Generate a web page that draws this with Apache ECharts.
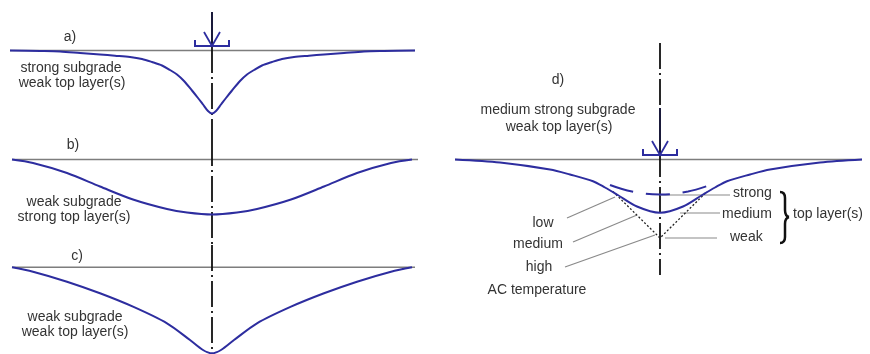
<!DOCTYPE html>
<html><head><meta charset="utf-8">
<script src="https://cdn.jsdelivr.net/npm/echarts@6/dist/echarts.min.js"></script>
<style>html,body{margin:0;padding:0;background:#fff}#c{width:870px;height:354px}</style>
</head><body><div id="c"></div>
<script>
// ---- data: horizontal offset from load centre and deflection below surface ----
const offsetsA = [-202,-172,-152,-132,-112,-97,-82,-70,-60,-50,-42,-35,-28,-20,-14,-9,-4,0,4,9,14,20,28,35,42,50,60,70,82,97,112,132,152,172,203];
const deflA    = [0,0.5,1,2.5,4,5.2,6.5,8.5,11.5,15,19.5,24,30.5,40,47.5,54,60.5,63,60.5,54,47.5,40,30.5,24,19.5,15,11.5,8.5,6.5,5.2,4,2.5,1,0.5,0];

const offsetsB = [-200,-179,-145,-112,-79,-45,-25,0,25,45,79,112,145,179,200];
const deflB    = [0,3.5,13.5,27,40,49.5,53,55,53,49.5,40,27,13.5,3.5,0];

const offsetsC = [-200,-179,-145,-112,-79,-45,-22,-9,0,9,22,45,79,112,145,179,200];
const deflC    = [0,4.4,14.4,26,39.4,56,72.7,82.7,86,82.7,72.7,56,39.4,26,14.4,4.4,0];

// panel d: medium top layer (solid), strong (dashed), weak (dotted)
const offsetsDMedium = [-205,-160,-110,-90,-67,-55,-43,-23,0,23,43,55,67,90,110,160,202];
const deflDMedium    = [0,3,10,15,21.7,28,35,47,53.3,47,35,28,21.7,15,10,3,0];
const offsetsDStrong = [-50,-28,0,28,50];
const deflDStrong    = [25.5,32,35,32,25.5];
const offsetsDWeak   = [-47,0,47];
const deflDWeak      = [32,78.5,32];

const panelLabels = ['a)','b)','c)','d)'];
const panelTexts = [
  ['strong subgrade','weak top layer(s)'],
  ['weak subgrade','strong top layer(s)'],
  ['weak subgrade','weak top layer(s)'],
  ['medium strong subgrade','weak top layer(s)']
];
const tempLabels = ['low','medium','high'];
const layerLabels = ['strong','medium','weak'];

// ---- layout ----
const panels = [
  {cx:212, base:50.5,  top:47,  bottom:140, bl:[-202,203]},
  {cx:212, base:159.5, top:140, bottom:245, bl:[-200,206]},
  {cx:212, base:267.3, top:245, bottom:354, bl:[-200,203]},
  {cx:660, base:159.5, top:40,  bottom:280, bl:[-205,202]}
];
const BLUE = '#2d2d9f', GRAY = '#7d7d7d', TXT = '#333';
const CL = {color:'#111', width:1.8, type:[26,4,2,4]};

function zip(a,b){return a.map((v,i)=>[v,b[i]]);}

const chart = echarts.init(document.getElementById('c'), null, {renderer:'canvas'});

const grids = [], xAxes = [], yAxes = [], series = [];
panels.forEach((p,i)=>{
  grids.push({left:p.cx-205, width:410, top:p.top, height:p.bottom-p.top});
  xAxes.push({gridIndex:i, type:'value', min:-205, max:205, show:false});
  yAxes.push({gridIndex:i, type:'value', inverse:true, min:p.top-p.base, max:p.bottom-p.base, show:false});
  series.push({type:'line', xAxisIndex:i, yAxisIndex:i, data:[[p.bl[0],0],[p.bl[1],0]], symbol:'none',
    lineStyle:{color:GRAY, width:1.5}, z:1, silent:true, clip:false});
  const yTop = i===3 ? 43-p.base : p.top-p.base;
  const yBot = i===3 ? 275-p.base : p.bottom-p.base;
  series.push({type:'line', xAxisIndex:i, yAxisIndex:i, data:[[0,yTop],[0,yBot]], symbol:'none',
    lineStyle:CL, z:2, silent:true, clip:false});
});

const curves = [[offsetsA,deflA],[offsetsB,deflB],[offsetsC,deflC],[offsetsDMedium,deflDMedium]];
curves.forEach((c,i)=>{
  series.push({type:'line', xAxisIndex:i, yAxisIndex:i, data:zip(c[0],c[1]), symbol:'none', smooth:0.3,
    lineStyle:{color:BLUE, width:2}, z:5, silent:true, clip:false});
});
series.push({type:'line', xAxisIndex:3, yAxisIndex:3, data:zip(offsetsDStrong,deflDStrong), symbol:'none', smooth:0.4,
  lineStyle:{color:BLUE, width:2, type:[24,13]}, z:5, silent:true, clip:false});
series.push({type:'line', xAxisIndex:3, yAxisIndex:3, data:zip(offsetsDWeak,deflDWeak), symbol:'none',
  lineStyle:{color:'#222', width:1.3, type:[2,2]}, z:4, silent:true, clip:false});

const leaders = [
  [[-93,58.5],[-45,37.5]],
  [[-87,82.5],[-23,55.5]],
  [[-95,107.5],[-5,75.5]],
  [[0,35.5],[70,35.5]],
  [[20,53.5],[60,53.5]],
  [[5,78.5],[57,78.5]]
];
leaders.forEach(l=>series.push({type:'line', xAxisIndex:3, yAxisIndex:3, data:l, symbol:'none',
  lineStyle:{color:'#8a8a8a', width:1.2}, z:3, silent:true, clip:false}));

const F = '14px "Liberation Sans", Arial, sans-serif';
function txt(t,x,y,align){return {type:'text', x:x, y:y, style:{text:t, font:F, fill:TXT, textAlign:align||'center', textVerticalAlign:'middle'}, z:10};}
const g = [];
g.push(txt(panelLabels[0],70,37));
g.push(txt(panelTexts[0][0],71,68)); g.push(txt(panelTexts[0][1],72,83));
g.push(txt(panelLabels[1],73,145));
g.push(txt(panelTexts[1][0],74,202)); g.push(txt(panelTexts[1][1],74,217));
g.push(txt(panelLabels[2],77,256));
g.push(txt(panelTexts[2][0],75,317)); g.push(txt(panelTexts[2][1],75,332));
g.push(txt(panelLabels[3],558,80));
g.push(txt(panelTexts[3][0],558,110)); g.push(txt(panelTexts[3][1],559,127));
g.push(txt(tempLabels[0],543,223)); g.push(txt(tempLabels[1],538,244)); g.push(txt(tempLabels[2],539,267));
g.push(txt('AC temperature',537,290));
g.push(txt(layerLabels[0],733,193,'left')); g.push(txt(layerLabels[1],722,214,'left')); g.push(txt(layerLabels[2],730,237,'left'));
g.push(txt('top layer(s)',793,214,'left'));
const BR = {stroke:'#111', lineWidth:2.5, fill:null};
function bz(x1,y1,cx,cy,x2,y2){return {type:'bezierCurve', shape:{x1:x1,y1:y1,x2:x2,y2:y2,cpx1:cx,cpy1:cy}, style:BR, z:10};}
function ln(x1,y1,x2,y2,st){return {type:'line', shape:{x1:x1,y1:y1,x2:x2,y2:y2}, style:st, z:9};}
g.push(bz(780,192,785,192,785,198), ln(785,198,785,210,BR), bz(785,210,785,216,789,217),
       bz(789,217,785,218,785,224), ln(785,224,785,237,BR), bz(785,237,785,243,780,243));
function load(cx, yBot, solidTop){
  const V = {stroke:BLUE, lineWidth:1.8, fill:null};
  return [
    ln(cx,solidTop,cx,yBot-1,{stroke:'#1a1a3a', lineWidth:2}),
    {type:'polyline', shape:{points:[[cx-8,yBot-14],[cx,yBot],[cx+8,yBot-14]]}, style:V, z:9},
    {type:'polyline', shape:{points:[[cx-17,yBot-6],[cx-17,yBot],[cx+17,yBot],[cx+17,yBot-6]]}, style:{stroke:BLUE, lineWidth:2, fill:null}, z:9}
  ];
}
g.push(...load(212, 46, 12));
g.push(...load(660, 155, 108));

chart.setOption({animation:false, backgroundColor:'#fff', grid:grids, xAxis:xAxes, yAxis:yAxes, series:series, graphic:g});
</script></body></html>
